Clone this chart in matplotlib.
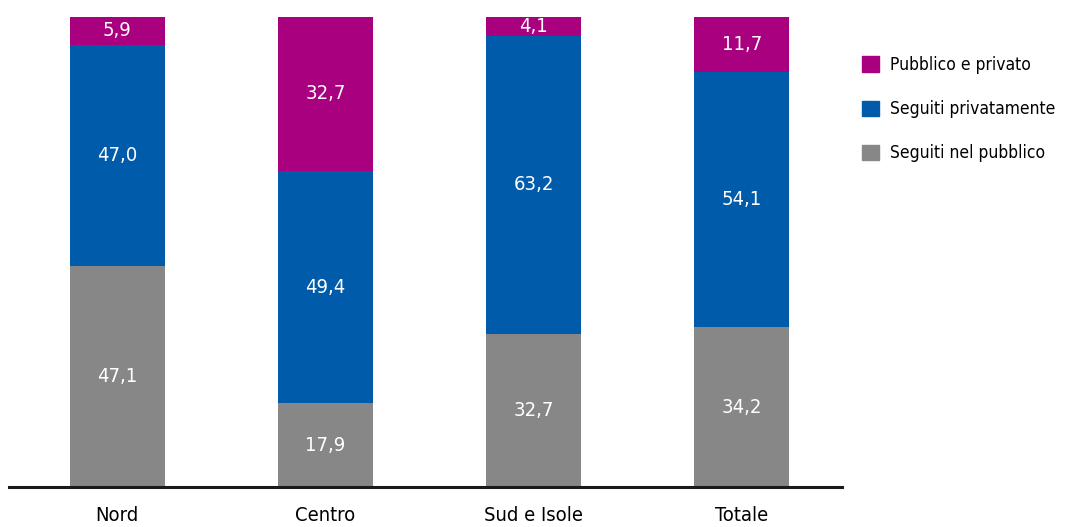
import matplotlib.pyplot as plt
from matplotlib.patches import Patch
import numpy as np

plt.rcParams['font.family'] = ['DejaVu Sans']
plt.rcParams['font.stretch'] = 'condensed'

aree = ['Nord', 'Centro', 'Sud e Isole', 'Totale']
pubblico = [47.1, 17.9, 32.7, 34.2]
privato = [47.0, 49.4, 63.2, 54.1]
misto = [5.9, 32.7, 4.1, 11.7]

serie = ['Seguiti nel pubblico', 'Seguiti privatamente', 'Pubblico e privato']
colori = ['#878787', '#005BAA', '#A8007F']

fig = plt.figure(figsize=(10.67, 5.27), dpi=100)
ax = fig.add_axes([0.0084, 0.075, 0.7806, 0.8927])

x = np.arange(len(aree))
base = np.zeros(len(aree))
for valori, col in zip([pubblico, privato, misto], colori):
    ax.bar(x, valori, width=0.457, bottom=base, color=col, linewidth=0)
    for xi, b, v in zip(x, base, valori):
        ax.text(xi, b + v / 2, f'{v:.1f}'.replace('.', ','), ha='center', va='center',
                color='white', fontsize=14.5)
    base = base + np.array(valori)

ax.set_xlim(-0.52, 3.48)
ax.set_ylim(0, 100)
ax.set_xticks(x)
ax.set_xticklabels(aree, fontsize=14.5)
ax.tick_params(axis='x', length=0, pad=13)
ax.set_yticks([])
for s in ['top', 'right', 'left']:
    ax.spines[s].set_visible(False)
ax.spines['bottom'].set_linewidth(2.2)
ax.spines['bottom'].set_color('#1a1a1a')

handles = [Patch(color=c, label=l) for c, l in zip(colori, serie)][::-1]
fig.legend(handles=handles, loc='upper left', bbox_to_anchor=(0.793, 0.923),
           frameon=False, fontsize=12.5, handlelength=1.0, handleheight=1.0,
           handletextpad=0.65, labelspacing=1.5)

fig.savefig('out.png', dpi=100)
